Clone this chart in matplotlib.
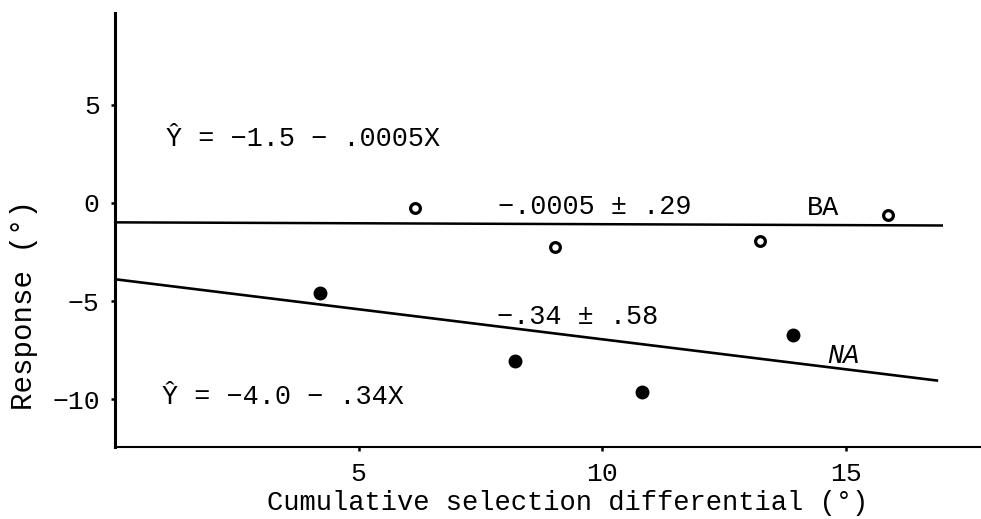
import matplotlib
matplotlib.use("Agg")
import matplotlib.pyplot as plt

# ---- data ----
ba_x = [6.16, 9.03, 13.24, 15.88]
ba_y = [-0.27, -2.23, -1.92, -0.61]
na_x = [4.21, 8.21, 10.81, 13.93]
na_y = [-4.60, -8.04, -9.62, -6.73]

ba_line_x = [0.0, 17.0]
ba_line_y = [-0.99, -1.15]
na_line_x = [0.0, 16.9]
na_line_y = [-3.89, -9.06]

x_ticks = [5, 10, 15]
y_ticks = [-10, -5, 0, 5]

eq_ba = "Ŷ = \u22121.5 \u2212 .0005X"
eq_na = "Ŷ = \u22124.0 \u2212 .34X"
slope_ba = "\u2212.0005 \u00b1 .29"
slope_na = "\u2212.34 \u00b1 .58"
name_ba = "BA"
name_na = "NA"
x_label = "Cumulative selection differential (\u00b0)"
y_label = "Response (\u00b0)"

FONT = ["Liberation Mono", "DejaVu Sans Mono"]
plt.rcParams["font.family"] = FONT

fig = plt.figure(figsize=(9.81, 5.19), dpi=100)
ax = fig.add_axes([115 / 981, 72 / 519, 866 / 981, 434 / 519])

ax.plot(ba_line_x, ba_line_y, color="black", lw=1.8, solid_capstyle="butt")
ax.plot(na_line_x, na_line_y, color="black", lw=1.9, solid_capstyle="butt")

ax.plot(ba_x, ba_y, linestyle="none", marker="o", ms=7, mfc="white",
        mec="black", mew=2.3)
ax.plot(na_x, na_y, linestyle="none", marker="o", ms=9, mfc="black",
        mec="black", mew=1)

ax.set_xlim(0, 17.78)
ax.set_ylim(-12.44, 9.68)

for s in ["top", "right"]:
    ax.spines[s].set_visible(False)
ax.spines["left"].set_linewidth(2.2)
ax.spines["bottom"].set_linewidth(1.5)

ax.set_xticks(x_ticks)
ax.set_yticks(y_ticks)
ax.tick_params(axis="x", direction="out", length=3, width=1.8, pad=8,
               labelsize=19)
ax.tick_params(axis="y", direction="out", length=3, width=1.8, pad=8,
               labelsize=19)

fs = 19.4
ax.text(1.04, 2.9, eq_ba, fontsize=fs, ha="left", va="baseline")
ax.text(0.97, -10.24, eq_na, fontsize=fs, ha="left", va="baseline")
ax.text(7.86, -0.58, slope_ba, fontsize=fs, ha="left", va="baseline")
ax.text(14.2, -0.61, name_ba, fontsize=fs, ha="left", va="baseline")
ax.text(7.84, -6.19, slope_na, fontsize=fs, ha="left", va="baseline")
ax.text(14.62, -8.17, name_na, fontsize=fs, ha="left", va="baseline",
        style="italic")

fig.text(568 / 981, (519 - 510) / 519, x_label, fontsize=19.5,
         ha="center", va="baseline")
fig.text(24 / 981, (519 - 305) / 519, y_label, fontsize=21,
         ha="center", va="center", rotation=90)

fig.savefig("out.png", dpi=100, facecolor="white")
